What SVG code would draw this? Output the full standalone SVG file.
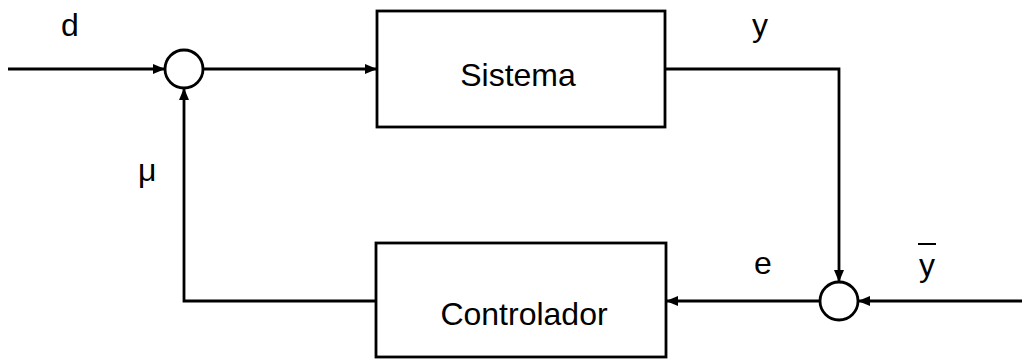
<svg xmlns="http://www.w3.org/2000/svg" width="1022" height="360" viewBox="0 0 1022 360">
<style>
.blk{fill:#fff;stroke:#000;stroke-width:2.8}
.sum{fill:#fff;stroke:#000;stroke-width:2.8}
.wire{fill:none;stroke:#000;stroke-width:2.8}
text{font-family:"Liberation Sans",Arial,sans-serif;font-size:32px;fill:#000}
.c{text-anchor:middle}
</style>
<defs>
<marker id="arr" viewBox="0 0 12 10" refX="12" refY="5" markerWidth="12" markerHeight="10" markerUnits="userSpaceOnUse" orient="auto">
<path d="M0,0 L12,5 L0,10 z" fill="#000"/>
</marker>
</defs>
<rect width="1022" height="360" fill="#fff"/>
<g id="connectors">
<path class="wire" d="M8,69 H165" marker-end="url(#arr)"/>
<path class="wire" d="M203,69 H377" marker-end="url(#arr)"/>
<path class="wire" d="M665,69 H839 V282" marker-end="url(#arr)"/>
<path class="wire" d="M1022,301 H858" marker-end="url(#arr)"/>
<path class="wire" d="M820,301 H666" marker-end="url(#arr)"/>
<path class="wire" d="M376,301 H184 V88" marker-end="url(#arr)"/>
</g>
<g id="sum1"><circle class="sum" cx="184" cy="69" r="19"/></g>
<g id="sum2"><circle class="sum" cx="839" cy="301" r="19"/></g>
<g id="sistema">
<rect class="blk" x="377" y="11" width="288" height="116"/>
<text class="c" x="518" y="86">Sistema</text>
</g>
<g id="controlador">
<rect class="blk" x="376" y="243" width="290" height="114"/>
<text class="c" x="524" y="325">Controlador</text>
</g>
<g id="labels">
<text x="61" y="36">d</text>
<text x="752" y="36">y</text>
<text x="754" y="274">e</text>
<text x="138" y="181">μ</text>
<text x="919" y="276">y</text>
<line x1="918" y1="244" x2="936" y2="244" stroke="#000" stroke-width="2"/>
</g>
</svg>
